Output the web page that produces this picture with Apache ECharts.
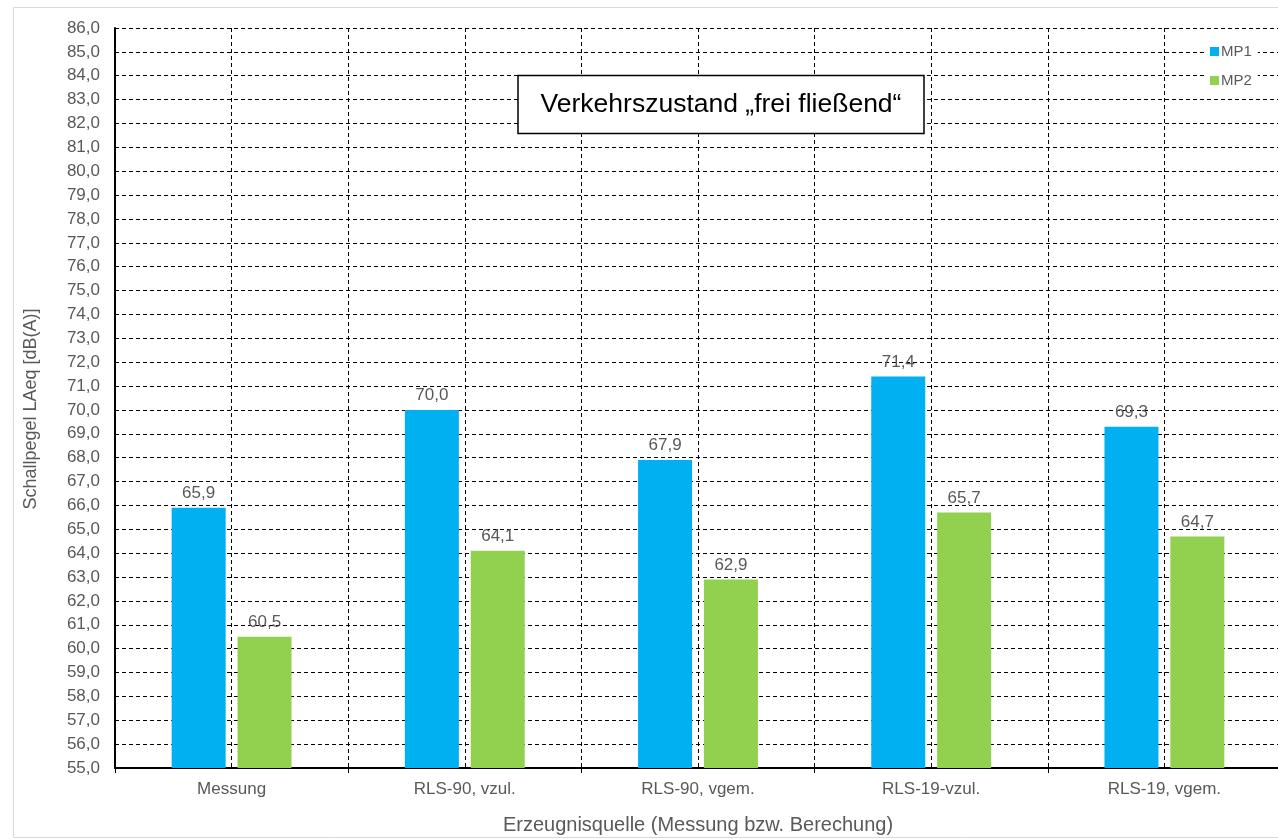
<!DOCTYPE html>
<html>
<head>
<meta charset="utf-8">
<script src="https://cdn.jsdelivr.net/npm/echarts@6/dist/echarts.min.js"></script>
<style>
html,body{margin:0;padding:0;background:#fff;}
#chart{width:1278px;height:839px;}
</style>
</head>
<body>
<div id="chart"></div>
<script>
const categories = ['Messung', 'RLS-90, vzul.', 'RLS-90, vgem.', 'RLS-19-vzul.', 'RLS-19, vgem.'];
const mp1 = [65.9, 70.0, 67.9, 71.4, 69.3];
const mp2 = [60.5, 64.1, 62.9, 65.7, 64.7];
const seriesNames = ['MP1', 'MP2'];
const yMin = 55, yMax = 86, yStep = 1;
const titleText = 'Verkehrszustand \u201Efrei flie\u00DFend\u201C';
const yAxisName = 'Schallpegel LAeq [dB(A)]';
const xAxisName = 'Erzeugnisquelle (Messung bzw. Berechung)';

const FONT = '"Liberation Sans", Arial, sans-serif';
const GRAY = '#595959';
const fmt = v => v.toFixed(1).replace('.', ',');
const dash = { color: '#000', width: 1, type: [4, 3] };

const chart = echarts.init(document.getElementById('chart'));
chart.setOption({
  animation: false,
  textStyle: { fontFamily: FONT },
  grid: { left: 115, right: -3, top: 28, bottom: 71, containLabel: false, outerBoundsMode: 'none' },
  legend: {
    data: seriesNames,
    orient: 'vertical',
    left: 1204, top: 40,
    itemWidth: 9, itemHeight: 9, itemGap: 14,
    icon: 'rect',
    backgroundColor: '#fff',
    padding: [4, 6, 4, 6],
    textStyle: { color: GRAY, fontSize: 15, fontFamily: FONT, padding: [0, 0, 0, -3] }
  },
  xAxis: [{
    type: 'category',
    data: categories,
    name: xAxisName,
    nameLocation: 'middle',
    nameGap: 47,
    nameTextStyle: { color: GRAY, fontSize: 20, fontFamily: FONT },
    axisLine: { lineStyle: { color: '#000', width: 2 } },
    axisTick: { show: true, length: 5, lineStyle: { color: '#000', width: 1 } },
    axisLabel: { color: GRAY, fontSize: 17, margin: 13, fontFamily: FONT },
    splitLine: { show: false }
  }, {
    type: 'value',
    min: 0, max: 10, interval: 1,
    position: 'bottom',
    axisLine: { show: false },
    axisTick: { show: false },
    axisLabel: { show: false },
    splitLine: { show: true, lineStyle: dash }
  }],
  yAxis: {
    type: 'value',
    min: yMin, max: yMax, interval: yStep,
    axisLine: { show: true, lineStyle: { color: '#000', width: 2 } },
    axisTick: { show: false },
    axisLabel: { color: GRAY, fontSize: 17, margin: 15, formatter: v => fmt(v), fontFamily: FONT },
    splitLine: { show: true, lineStyle: dash }
  },
  series: [{
    name: seriesNames[0],
    type: 'bar',
    xAxisIndex: 0,
    data: mp1,
    barWidth: 54,
    barGap: '22%',
    itemStyle: { color: '#00B0F0' },
    label: { show: true, position: 'top', distance: 6, color: GRAY, fontSize: 17, formatter: p => fmt(p.value), fontFamily: FONT },
    z: 3
  }, {
    name: seriesNames[1],
    type: 'bar',
    xAxisIndex: 0,
    data: mp2,
    barWidth: 54,
    barGap: '22%',
    itemStyle: { color: '#92D050' },
    label: { show: true, position: 'top', distance: 6, color: GRAY, fontSize: 17, formatter: p => fmt(p.value), fontFamily: FONT },
    z: 3
  }],
  graphic: [{
    type: 'rect',
    shape: { x: 13.5, y: 7.5, width: 1300, height: 830 },
    style: { fill: 'none', stroke: '#d9d9d9', lineWidth: 1 },
    silent: true, z: -1
  }, {
    type: 'text',
    x: 31, y: 409,
    rotation: Math.PI / 2,
    style: { text: yAxisName, fill: GRAY, font: '18px ' + FONT, textAlign: 'center', textVerticalAlign: 'middle' },
    silent: true
  }, {
    type: 'rect',
    shape: { x: 518, y: 75.5, width: 406, height: 58 },
    style: { fill: '#fff', stroke: '#000', lineWidth: 1.5 },
    z: 10
  }, {
    type: 'text',
    x: 721, y: 104.5,
    style: { text: titleText, fill: '#000', font: '26.5px ' + FONT, textAlign: 'center', textVerticalAlign: 'middle' },
    z: 11
  }]
});
</script>
</body>
</html>
